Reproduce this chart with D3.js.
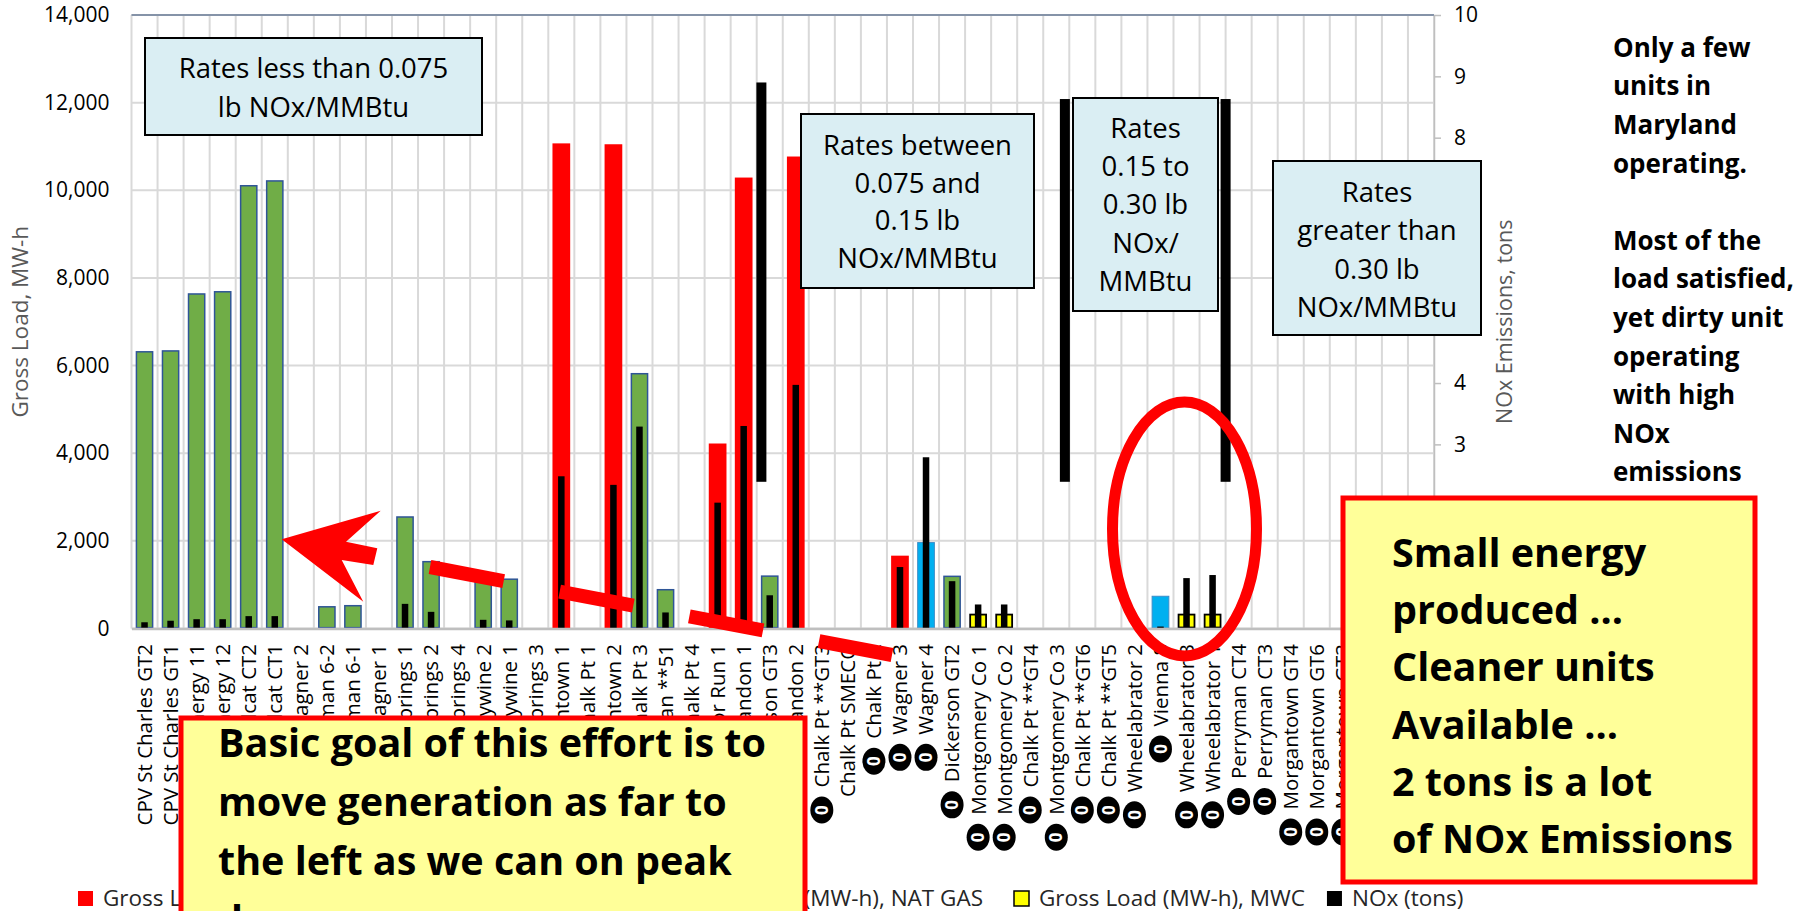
<!DOCTYPE html>
<html>
<head>
<meta charset="utf-8">
<script src="https://cdn.jsdelivr.net/npm/d3@7"></script>
<style>
    body { margin: 0; background: #fff; }
    svg { display: block; font-family: "Open Sans", sans-serif; }
</style>
</head>
<body>
<div id="chart"></div>
<script>
// Units along the x axis, left to right
let units = [
    "CPV St Charles GT2", "CPV St Charles GT1", "Keys Energy 11", "Keys Energy 12", "Wildcat CT2",
    "Wildcat CT1", "Wagner 2", "Perryman 6-2", "Perryman 6-1", "Wagner 1",
    "Rock Springs 1", "Rock Springs 2", "Rock Springs 4", "Brandywine 2", "Brandywine 1",
    "Rock Springs 3", "Morgantown 1", "Chalk Pt 1", "Morgantown 2", "Chalk Pt 3",
    "Perryman **51", "Chalk Pt 4", "Warrior Run 1", "Brandon 1", "Dickerson GT3",
    "Brandon 2", "Chalk Pt **GT3", "Chalk Pt SMECO", "Chalk Pt 2", "Wagner 3",
    "Wagner 4", "Dickerson GT2", "Montgomery Co 1", "Montgomery Co 2", "Chalk Pt **GT4",
    "Montgomery Co 3", "Chalk Pt **GT6", "Chalk Pt **GT5", "Wheelabrator 2", "Vienna 8",
    "Wheelabrator 3", "Wheelabrator 1", "Perryman CT4", "Perryman CT3", "Morgantown GT4",
    "Morgantown GT6", "Morgantown GT3", "Morgantown GT5", "Morgantown GT1", "Morgantown GT2"
];

// Units whose label starts with the black circled zero
let circledUnits = [
    "Chalk Pt **GT3", "Chalk Pt 2", "Wagner 3", "Wagner 4", "Dickerson GT2", "Montgomery Co 1",
    "Montgomery Co 2", "Chalk Pt **GT4", "Montgomery Co 3", "Chalk Pt **GT6", "Chalk Pt **GT5",
    "Wheelabrator 2", "Vienna 8", "Wheelabrator 3", "Wheelabrator 1", "Perryman CT4", "Perryman CT3",
    "Morgantown GT4", "Morgantown GT6", "Morgantown GT3", "Morgantown GT5", "Morgantown GT1", "Morgantown GT2"
];

// Gross load, MW-h, by fuel
let coalLoad = [
    ["Morgantown 1", 11070], ["Morgantown 2", 11050], ["Warrior Run 1", 4220],
    ["Brandon 1", 10290], ["Brandon 2", 10770], ["Wagner 3", 1660]
];
let oilLoad = [["Wagner 4", 1970], ["Vienna 8", 745]];
let gasLoad = [
    ["CPV St Charles GT2", 6330], ["CPV St Charles GT1", 6350], ["Keys Energy 11", 7650],
    ["Keys Energy 12", 7700], ["Wildcat CT2", 10120], ["Wildcat CT1", 10230],
    ["Perryman 6-2", 510], ["Perryman 6-1", 535], ["Rock Springs 1", 2560],
    ["Rock Springs 2", 1540], ["Brandywine 2", 1130], ["Brandywine 1", 1140],
    ["Chalk Pt 3", 5830], ["Perryman **51", 900], ["Dickerson GT3", 1210], ["Dickerson GT2", 1205]
];
let mwcLoad = [["Montgomery Co 1", 336], ["Montgomery Co 2", 336], ["Wheelabrator 3", 336], ["Wheelabrator 1", 336]];

// NOx emissions, tons
let noxTons = [
    ["CPV St Charles GT2", 0.10], ["CPV St Charles GT1", 0.125], ["Keys Energy 11", 0.15],
    ["Keys Energy 12", 0.15], ["Wildcat CT2", 0.20], ["Wildcat CT1", 0.20],
    ["Rock Springs 1", 0.40], ["Rock Springs 2", 0.27], ["Brandywine 2", 0.14], ["Brandywine 1", 0.13],
    ["Morgantown 1", 2.48], ["Morgantown 2", 2.34], ["Chalk Pt 3", 3.29], ["Perryman **51", 0.26],
    ["Warrior Run 1", 2.05], ["Brandon 1", 3.30], ["Dickerson GT3", 0.54], ["Brandon 2", 3.97],
    ["Wagner 3", 1.00], ["Wagner 4", 2.79], ["Dickerson GT2", 0.77], ["Montgomery Co 1", 0.39],
    ["Montgomery Co 2", 0.39], ["Vienna 8", 0.03], ["Wheelabrator 3", 0.82], ["Wheelabrator 1", 0.87]
];

// Axis ticks
let loadTicks = [0, 2000, 4000, 6000, 8000, 10000, 12000, 14000];
let noxTicks = [0, 1, 2, 3, 4, 5, 6, 7, 8, 9, 10];

let seriesNames = ["Gross Load (MW-h), COAL", "Gross Load (MW-h), OIL", "Gross Load (MW-h), NAT GAS", "Gross Load (MW-h), MWC", "NOx (tons)"];

// Annotation text
let noteRight = ["Only a few", "units in", "Maryland", "operating.", "", "Most of the", "load satisfied,",
    "yet dirty unit", "operating", "with high", "NOx", "emissions"];
let noteSmall = ["Small energy", "produced \u2026", "Cleaner units", "Available \u2026", "2 tons is a lot", "of NOx Emissions"];
let noteGoal = ["Basic goal of this effort is to", "move generation as far to", "the left as we can on peak", "days"];
let rateBoxes = [
    {x: 145, y: 38, w: 337, h: 97, cy: 68, step: 39, lines: ["Rates less than 0.075", "lb NOx/MMBtu"]},
    {x: 801, y: 114, w: 233, h: 174, cy: 145, step: 37.7, lines: ["Rates between", "0.075 and", "0.15 lb", "NOx/MMBtu"]},
    {x: 1073, y: 98, w: 145, h: 213, cy: 128, step: 38.2, lines: ["Rates", "0.15 to", "0.30 lb", "NOx/", "MMBtu"]},
    {x: 1273, y: 161, w: 208, h: 174, cy: 192, step: 38.3, lines: ["Rates", "greater than", "0.30 lb", "NOx/MMBtu"]}
];


// ---- setup ----
const W = 1808, H = 911;
let plot = {left: 131.5, right: 1434, top: 15, bottom: 628.4};

let svg = d3.select("#chart").append("svg")
    .attr("width", W)
    .attr("height", H);

let x = d3.scaleBand().domain(units).range([plot.left, plot.right]);
let y = d3.scaleLinear().domain([0, 14000]).range([plot.bottom, plot.top]);
let y2 = d3.scaleLinear().domain([0, 10]).range([plot.bottom, plot.top]);

let bw = x.bandwidth();
let loadW = bw * 0.68;
let noxW = bw * 0.25;

// Gridlines
svg.append("g")
    .selectAll("line")
    .data(loadTicks)
    .join("line")
    .attr("x1", plot.left).attr("x2", plot.right)
    .attr("y1", d => y(d)).attr("y2", d => y(d))
    .attr("stroke", "#D9D9D9")
    .attr("stroke-width", 2);

svg.append("g")
    .selectAll("line")
    .data(units.map(u => x(u)).concat([plot.right]))
    .join("line")
    .attr("x1", d => d).attr("x2", d => d)
    .attr("y1", plot.top).attr("y2", plot.bottom)
    .attr("stroke", "#D9D9D9")
    .attr("stroke-width", 2);

svg.append("line")
    .attr("x1", plot.left).attr("x2", plot.right)
    .attr("y1", y(14000)).attr("y2", y(14000))
    .attr("stroke", "#8593A8")
    .attr("stroke-width", 2);

// Load bars
let series = [
    {data: coalLoad, fill: "#FF0000", stroke: "none", sw: 0},
    {data: oilLoad, fill: "#00B0F0", stroke: "#3C8DC8", sw: 1},
    {data: gasLoad, fill: "#70AD47", stroke: "#2F5597", sw: 1.5},
    {data: mwcLoad, fill: "#FFFF00", stroke: "#000000", sw: 1.8}
];

series.forEach(s => {
    svg.append("g")
        .selectAll("rect")
        .data(s.data)
        .join("rect")
        .attr("x", d => x(d[0]) + (bw - loadW) / 2 + s.sw / 2)
        .attr("y", d => y(d[1]) + s.sw / 2)
        .attr("width", loadW - s.sw)
        .attr("height", d => y(0) - y(d[1]) - s.sw)
        .attr("fill", s.fill)
        .attr("stroke", s.stroke)
        .attr("stroke-width", s.sw);
});

// NOx bars on the secondary axis
svg.append("g")
    .selectAll("rect")
    .data(noxTons)
    .join("rect")
    .attr("x", d => x(d[0]) + (bw - noxW) / 2)
    .attr("y", d => y2(d[1]))
    .attr("width", noxW)
    .attr("height", d => y2(0) - y2(d[1]))
    .attr("fill", "#000");

// Axes
let fontAxis = "'Open Sans', sans-serif";

svg.append("g")
    .attr("transform", `translate(${plot.left},0)`)
    .call(d3.axisLeft(y).tickValues(loadTicks).tickFormat(d3.format(",")).tickSize(0).tickPadding(22))
    .call(g => g.select(".domain").remove())
    .attr("font-family", fontAxis)
    .attr("font-size", 21)
    .selectAll("text").attr("fill", "#000");

svg.append("g")
    .attr("transform", `translate(${plot.right},0)`)
    .call(d3.axisRight(y2).tickValues(noxTicks).tickSize(7).tickPadding(13).tickSizeOuter(0))
    .attr("font-family", fontAxis)
    .attr("font-size", 21)
    .call(g => g.selectAll("line, .domain").attr("stroke", "#BFBFBF").attr("stroke-width", 1.5))
    .selectAll("text").attr("fill", "#000");

let xAxis = svg.append("g")
    .attr("transform", `translate(0,${plot.bottom})`)
    .call(d3.axisBottom(x).tickSize(0).tickSizeOuter(0))
    .attr("font-family", fontAxis)
    .attr("font-size", 20.5);

xAxis.select(".domain").attr("stroke", "#BFBFBF").attr("stroke-width", 2.5);

xAxis.selectAll(".tick text")
    .attr("fill", "#000")
    .attr("text-anchor", "end")
    .attr("x", -15.5)
    .attr("y", 0)
    .attr("dy", "0.36em")
    .attr("transform", "rotate(-90)");

// Black circled zero in front of some unit labels
xAxis.selectAll(".tick")
    .filter(d => circledUnits.includes(d))
    .each(function () {
        let tick = d3.select(this);
        let len = tick.select("text").node().getComputedTextLength();
        let cx = -(15.5 + len + 9 + 13.5);
        let m = tick.append("g").attr("transform", "rotate(-90)");
        m.append("ellipse")
            .attr("cx", cx).attr("cy", 0)
            .attr("rx", 13.5).attr("ry", 11.5)
            .attr("fill", "#000");
        m.append("text")
            .attr("x", cx).attr("y", 0)
            .attr("dy", "0.36em")
            .attr("text-anchor", "middle")
            .attr("font-size", 17)
            .attr("font-weight", 700)
            .attr("fill", "#fff")
            .text("0");
    });

// Axis titles
svg.append("text")
    .attr("transform", `translate(20,${(plot.top + plot.bottom) / 2}) rotate(-90)`)
    .attr("text-anchor", "middle")
    .attr("dy", "0.36em")
    .attr("font-size", 22.5)
    .attr("fill", "#595959")
    .text("Gross Load, MW-h");

svg.append("text")
    .attr("transform", `translate(1504,${(plot.top + plot.bottom) / 2}) rotate(-90)`)
    .attr("text-anchor", "middle")
    .attr("dy", "0.36em")
    .attr("font-size", 21.5)
    .attr("fill", "#595959")
    .text("NOx Emissions, tons");

// Legend: first three items spread between the left start and the NAT GAS end,
// the last two follow with a fixed gap
let legendStyle = [
    {fill: "#FF0000", stroke: "none"},
    {fill: "#00B0F0", stroke: "none"},
    {fill: "#70AD47", stroke: "#2F5597"},
    {fill: "#FFFF00", stroke: "#000"},
    {fill: "#000", stroke: "none"}
];
let legend = svg.append("g").attr("font-size", 22.5);
let items = seriesNames.map((name, i) => {
    let g = legend.append("g");
    g.append("rect")
        .attr("width", 15).attr("height", 15)
        .attr("y", 891)
        .attr("fill", legendStyle[i].fill)
        .attr("stroke", legendStyle[i].stroke)
        .attr("stroke-width", 1.5);
    let t = g.append("text")
        .attr("x", 25).attr("y", 905.5)
        .attr("fill", "#262626")
        .text(name);
    return {g: g, w: t.node().getComputedTextLength()};
});
let leftStart = 78, gasEnd = 983;
let gap = (gasEnd - leftStart - 3 * 25 - d3.sum(items.slice(0, 3), d => d.w)) / 2;
let lx = leftStart;
items.forEach((it, i) => {
    it.g.attr("transform", `translate(${lx},0)`);
    lx += 25 + it.w + (i < 2 ? gap : (i === 2 ? 31 : 22));
});

// Dividers between rate groups
let dividers = [
    {unit: "Dickerson GT3", at: 0.18, top: 8.9},
    {unit: "Montgomery Co 3", at: 0.83, top: 8.63},
    {unit: "Perryman CT4", at: 0.0, top: 8.63}
];
svg.append("g")
    .selectAll("rect")
    .data(dividers)
    .join("rect")
    .attr("x", d => x(d.unit) + d.at * bw - 5)
    .attr("y", d => y2(d.top))
    .attr("width", 10)
    .attr("height", d => y2(2.39) - y2(d.top))
    .attr("fill", "#000");

// Rate boxes
rateBoxes.forEach(b => {
    let g = svg.append("g");
    g.append("rect")
        .attr("x", b.x).attr("y", b.y)
        .attr("width", b.w).attr("height", b.h)
        .attr("fill", "#DAEEF3")
        .attr("stroke", "#000")
        .attr("stroke-width", 2);
    g.selectAll("text")
        .data(b.lines)
        .join("text")
        .attr("x", b.x + b.w / 2)
        .attr("y", (d, i) => b.cy + i * b.step)
        .attr("dy", "0.36em")
        .attr("text-anchor", "middle")
        .attr("font-size", 27.5)
        .attr("fill", "#000")
        .text(d => d);
});

// Red ellipse around the small units
svg.append("ellipse")
    .attr("cx", 1184.5).attr("cy", 529)
    .attr("rx", 72).attr("ry", 127)
    .attr("fill", "none")
    .attr("stroke", "#FF0000")
    .attr("stroke-width", 11);

// Red arrow pointing left
svg.append("path")
    .attr("d", "M281.7,539.3 L380.7,510.7 L346,541.7 L377.3,548.3 L373.3,565 L341.7,560 L363.3,601.7 Z")
    .attr("fill", "#FF0000");

// Red dashed line
svg.append("line")
    .attr("x1", 430).attr("y1", 567)
    .attr("x2", 892).attr("y2", 655)
    .attr("stroke", "#FF0000")
    .attr("stroke-width", 14)
    .attr("stroke-dasharray", "75 57");

// Right side note
svg.append("g")
    .selectAll("text")
    .data(noteRight)
    .join("text")
    .attr("x", 1613)
    .attr("y", (d, i) => 56.7 + i * 38.6)
    .attr("font-size", 26)
    .attr("font-weight", 700)
    .attr("fill", "#000")
    .text(d => d);

// Yellow callouts
function callout(bx, by, bwid, bh, lines, tx, ty, step) {
    let g = svg.append("g");
    g.append("rect")
        .attr("x", bx).attr("y", by)
        .attr("width", bwid).attr("height", bh)
        .attr("fill", "#FFFF99")
        .attr("stroke", "#FF0000")
        .attr("stroke-width", 5);
    g.selectAll("text")
        .data(lines)
        .join("text")
        .attr("x", tx)
        .attr("y", (d, i) => ty + i * step)
        .attr("font-size", 39.5)
        .attr("font-weight", 700)
        .attr("fill", "#000")
        .text(d => d);
}

callout(1343, 498, 412, 384, noteSmall, 1392, 566.7, 57.3);
callout(181, 718, 624, 260, noteGoal, 218, 756.7, 59);
</script>
</body>
</html>
